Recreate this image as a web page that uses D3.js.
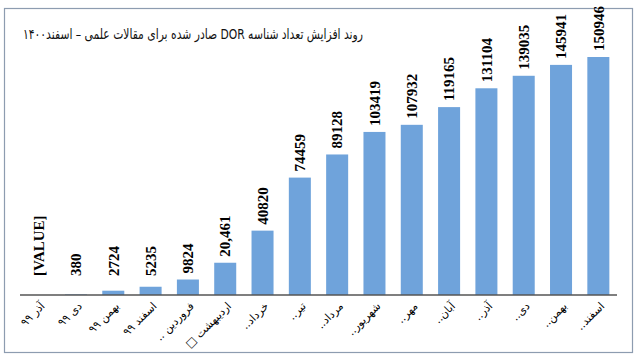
<!DOCTYPE html>
<html><head><meta charset="utf-8">
<script src="https://cdn.jsdelivr.net/npm/d3@7"></script>
<style>
html,body{margin:0;padding:0;background:#fff;}
svg{display:block;}
</style></head>
<body>
<svg id="chart" width="640" height="361"></svg>
<script>
const title = "روند افزایش تعداد شناسه DOR صادر شده برای مقالات علمی – اسفند۱۴۰۰";
const categories = ["آذر ۹۹","دی ۹۹","بهمن ۹۹","اسفند ۹۹","فروردین ..","اردیبهشت □","خرداد..","تیر..","مرداد..","شهریور..","مهر..","آبان..","آذر..","دی..","بهمن..","اسفند.."];
const values = [0, 380, 2724, 5235, 9824, 20461, 40820, 74459, 89128, 103419, 107932, 119165, 131104, 139035, 145941, 150946];
const valueLabels = ["[VALUE]","380","2724","5235","9824","20,461","40820","74459","89128","103419","107932","119165","131104","139035","145941","150946"];

const RLE = "\u202B", PDF = "\u202C";
const svg = d3.select("#chart");
const baseY = 295;

svg.append("rect").attr("x",4.5).attr("y",8.5).attr("width",628).attr("height",344)
  .attr("fill","#fff").attr("stroke","#8d9cb0").attr("stroke-width",1.2);

const x = d3.scaleBand().domain(categories).range([20,617]).paddingInner(0.41).paddingOuter(0.205);
const y = d3.scaleLinear().domain([0,160000]).range([baseY, baseY - 160000*238/150946]);

svg.append("g").selectAll("rect").data(values).join("rect")
  .attr("x",(d,i)=>x(categories[i]))
  .attr("y",d=>y(d))
  .attr("width",x.bandwidth())
  .attr("height",d=>baseY - y(d))
  .attr("fill","#6fa3db");

// baseline axis
const xAxis = d3.axisBottom(x).tickSize(0).tickFormat("");
const ga = svg.append("g").attr("transform",`translate(0,${baseY})`).call(xAxis);
ga.select(".domain").attr("stroke","#555").attr("stroke-width",1.6).attr("d","M20,0H617");

// category labels
svg.append("g").selectAll("text").data(categories).join("text")
  .attr("transform",(d)=>`translate(${x(d)+x.bandwidth()/2+4},${baseY+9}) rotate(-45)`)
  .attr("text-anchor","end")
  .attr("dy","0.35em")
  .attr("font-family","DejaVu Sans")
  .attr("font-size",11)
  .attr("fill","#000")
  .text(d=>RLE + d + PDF);

// value labels
svg.append("g").selectAll("text").data(values).join("text")
  .attr("transform",(d,i)=>{
    const cx = x(categories[i]) + x.bandwidth()/2;
    const by = Math.min(y(d) - 6, 276);
    return `translate(${cx},${by}) rotate(-90)`;
  })
  .attr("text-anchor","start")
  .attr("dy","0.35em")
  .attr("font-family","Liberation Serif")
  .attr("font-weight","bold")
  .attr("font-size",15)
  .attr("fill","#000")
  .text((d,i)=>valueLabels[i]);

svg.append("text")
  .attr("x",23).attr("y",39)
  .attr("text-anchor","start")
  .attr("textLength",340)
  .attr("lengthAdjust","spacingAndGlyphs")
  .attr("font-family","DejaVu Sans")
  .attr("font-size",14.5)
  .attr("fill","#111")
  .text(RLE + title + PDF);
</script>
</body></html>
